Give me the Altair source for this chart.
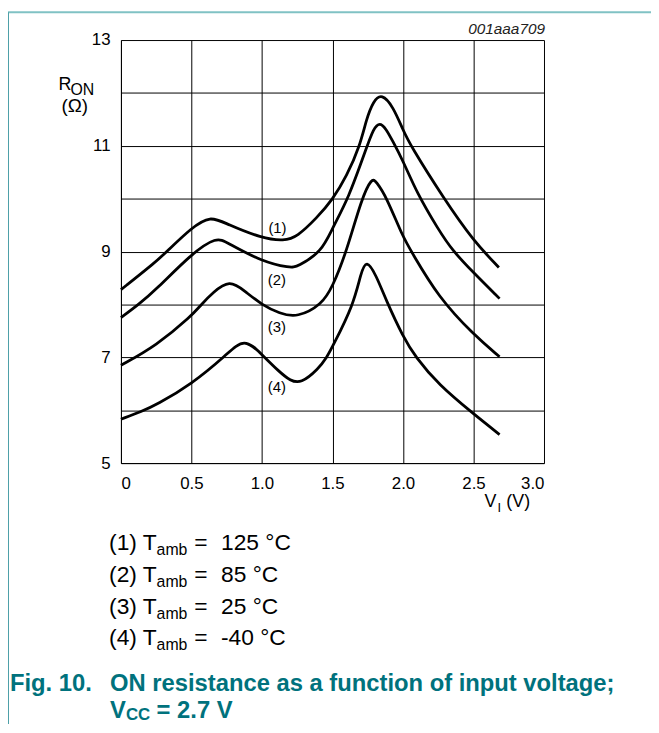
import altair as alt
import pandas as pd

FONT = "Liberation Sans"
TEAL = "#00727d"

# ---- data ----
curve_names = ["(1)", "(2)", "(3)", "(4)"]

v1 = [0, 0.25, 0.325, 0.5, 0.634, 0.75, 1.0, 1.157, 1.25, 1.39, 1.5, 1.6, 1.695, 1.74, 1.79, 1.85, 1.93, 2.0, 2.05, 2.29, 2.5, 2.68]
r1 = [8.28, 8.81, 9.0, 9.45, 9.68, 9.52, 9.25, 9.2, 9.28, 9.64, 9.98, 10.42, 11.0, 11.5, 11.85, 11.99, 11.74, 11.3, 11.02, 10.0, 9.2, 8.70]

v2 = [0, 0.126, 0.25, 0.5, 0.68, 0.75, 1.0, 1.2, 1.25, 1.425, 1.5, 1.613, 1.746, 1.79, 1.835, 1.88, 1.925, 2.0, 2.1, 2.25, 2.35, 2.5, 2.685]
r2 = [7.75, 8.0, 8.28, 8.96, 9.28, 9.17, 8.81, 8.69, 8.71, 9.0, 9.45, 10.0, 11.0, 11.32, 11.45, 11.32, 11.1, 10.72, 10.1, 9.42, 9.02, 8.6, 8.11]

v3 = [0, 0.25, 0.5, 0.57, 0.65, 0.77, 0.88, 1.0, 1.125, 1.25, 1.425, 1.5, 1.6, 1.706, 1.78, 1.81, 1.88, 2.0, 2.06, 2.25, 2.5, 2.685]
r3 = [6.85, 7.22, 7.78, 8.0, 8.22, 8.47, 8.25, 7.99, 7.83, 7.75, 8.0, 8.33, 9.0, 10.0, 10.4, 10.32, 10.05, 9.27, 9.0, 8.14, 7.43, 7.01]

v4 = [0, 0.15, 0.25, 0.5, 0.75, 0.875, 1.0, 1.125, 1.2, 1.275, 1.4, 1.46, 1.5, 1.65, 1.7, 1.74, 1.81, 1.88, 2.0, 2.09, 2.25, 2.5, 2.685]
r4 = [5.83, 5.98, 6.1, 6.49, 7.05, 7.38, 7.05, 6.72, 6.56, 6.5, 6.78, 7.0, 7.2, 8.0, 8.58, 8.86, 8.55, 8.08, 7.39, 7.0, 6.49, 5.93, 5.54]

label_v = [1.11, 1.105, 1.105, 1.105]
label_r = [9.45, 8.47, 7.58, 6.43]

x_tick_values = [0, 0.25, 0.5, 0.75, 1.0, 1.25, 1.5, 1.75, 2.0, 2.25, 2.5, 2.75, 3.0]
y_tick_values = [5, 6, 7, 8, 9, 10, 11, 12, 13]

legend_rows = [("(1) T", "125 °C"), ("(2) T", "85 °C"), ("(3) T", "25 °C"), ("(4) T", "-40 °C")]

# ---- build tables ----
rows = []
for name, vs, rs in zip(curve_names, [v1, v2, v3, v4], [r1, r2, r3, r4]):
    for i, (v, r) in enumerate(zip(vs, rs)):
        rows.append({"curve": name, "order": i, "V": v, "R": r})
df = pd.DataFrame(rows)
lab_df = pd.DataFrame({"text": curve_names, "V": label_v, "R": label_r})
one = pd.DataFrame({"a": [0]})

OX, OY = 122, 37  # page position of plot origin

x_scale = alt.Scale(domain=[0, 3], nice=False, zero=False)
y_scale = alt.Scale(domain=[5, 13], nice=False, zero=False)

x_axis = alt.Axis(
    values=x_tick_values, title=None, grid=True,
    labelExpr="datum.value == 0 ? '0' : (datum.value * 2 == floor(datum.value * 2) ? format(datum.value, '.1f') : '')",
    labelPadding=13,
)
y_axis = alt.Axis(
    values=y_tick_values, title=None, grid=True,
    labelExpr="datum.value % 2 == 1 ? datum.label : ''",
    labelPadding=11,
)

lines = alt.Chart(df).mark_line(color="black", strokeWidth=2.8, interpolate="basis").encode(
    x=alt.X("V:Q", scale=x_scale, axis=x_axis),
    y=alt.Y("R:Q", scale=y_scale, axis=y_axis),
    detail="curve:N",
    order="order:Q",
)

curve_labels = alt.Chart(lab_df).mark_text(font=FONT, fontSize=15, color="black").encode(
    x=alt.X("V:Q", scale=x_scale),
    y=alt.Y("R:Q", scale=y_scale),
    text="text:N",
)


def txt(text, x, y, size, align="left", weight="normal", style="normal", color="black"):
    return alt.Chart(one).mark_text(
        text=text, align=align, baseline="alphabetic", font=FONT, fontSize=size,
        fontWeight=weight, fontStyle=style, color=color,
    ).encode(x=alt.value(x - OX), y=alt.value(y - OY))


annots = [
    txt("001aaa709", 550, 31, 15.5, align="right", style="italic", color="#222222"),
    txt("R", 59, 87, 18),
    txt("ON", 71, 92, 16),
    txt("(Ω)", 62, 110, 19),
    txt("V", 489, 508, 18),
    txt("I", 502, 513, 13),
    txt("(V)", 511, 508, 18),
]
base_y = 552
for i, (a, b) in enumerate(legend_rows):
    y = base_y + 32 * i
    annots.append(txt(a, 110, y, 23))
    annots.append(txt("amb", 158, y + 5, 16))
    annots.append(txt("=", 196, y, 23))
    annots.append(txt(b, 223, y, 23))

annots += [
    txt("Fig. 10.", 10, 694, 24, weight="bold", color=TEAL),
    txt("ON resistance as a function of input voltage;", 111, 694, 24, weight="bold", color=TEAL),
    txt("V", 111, 721, 24, weight="bold", color=TEAL),
    txt("CC", 127, 723, 17, weight="bold", color=TEAL),
    txt("= 2.7 V", 158, 721, 24, weight="bold", color=TEAL),
]

border_top = alt.Chart(one).mark_rule(color="#80c2c4", strokeWidth=2).encode(
    x=alt.value(8 - OX), x2=alt.value(659 - OX), y=alt.value(9 - OY)
)
border_left = alt.Chart(one).mark_rule(color="#4a9ea6", strokeWidth=1).encode(
    x=alt.value(8.5 - OX), y=alt.value(9 - OY), y2=alt.value(733 - OY)
)

chart = alt.layer(lines, curve_labels, border_top, border_left, *annots).properties(
    width=427, height=427,
    padding={"left": 114, "top": 29, "right": 108, "bottom": 260},
    autosize=alt.AutoSizeParams(type="none"),
).configure_view(strokeWidth=0).configure_axis(
    labelFont=FONT, labelFontSize=17, labelColor="black",
    domainColor="black", domainWidth=1,
    gridColor="black", gridOpacity=1, gridWidth=1,
    ticks=True, tickSize=0, tickWidth=0,
)

chart.save("out.html", embed_options={"renderer": "svg", "actions": False})
